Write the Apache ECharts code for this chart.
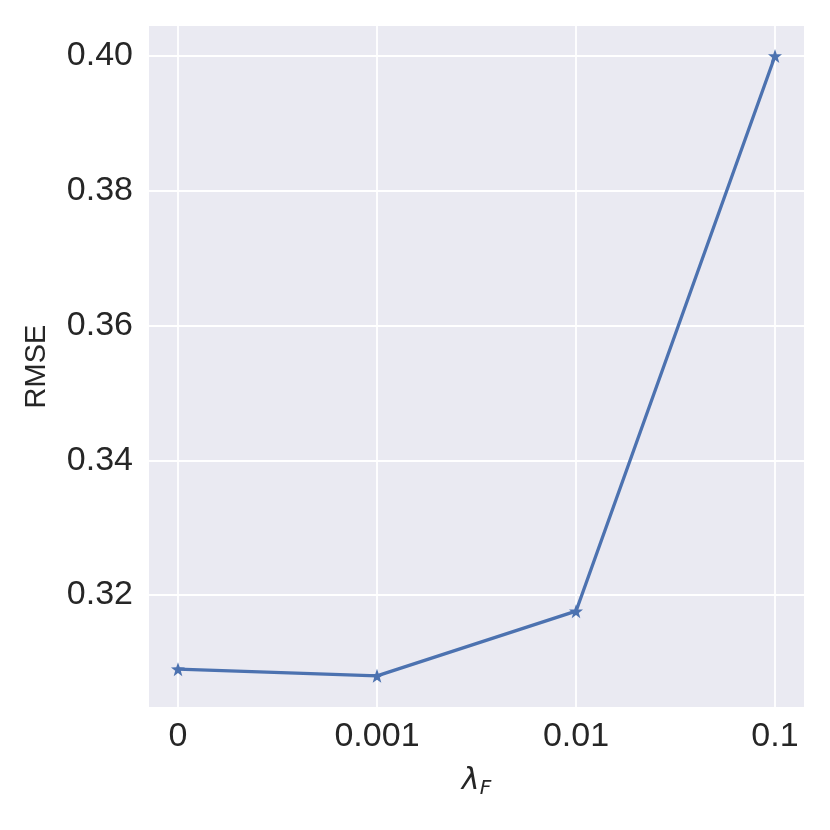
<!DOCTYPE html>
<html>
<head>
<meta charset="utf-8">
<script src="https://cdn.jsdelivr.net/npm/echarts@6/dist/echarts.min.js"></script>
<style>html,body{margin:0;padding:0;background:#fff}#c{width:830px;height:830px}</style>
</head>
<body>
<div id="c"></div>
<script>
const categories = ['0', '0.001', '0.01', '0.1'];
const rmse = [0.3090, 0.3080, 0.3176, 0.4000];
const yTicks = [0.32, 0.34, 0.36, 0.38, 0.40];
const yLabel = 'RMSE';

const chart = echarts.init(document.getElementById('c'));
const textColor = '#262626';
chart.setOption({
  animation: false,
  backgroundColor: '#ffffff',
  grid: { left: 149, right: 26, top: 26, bottom: 123, backgroundColor: '#eaeaf2', show: true, borderWidth: 0 },
  xAxis: {
    type: 'value',
    min: -0.1457,
    max: 3.1457,
    axisLine: { show: false },
    axisTick: { show: false, customValues: [0, 1, 2, 3] },
    splitLine: { show: true, lineStyle: { color: '#ffffff', width: 1.8 } },
    axisLabel: {
      customValues: [0, 1, 2, 3],
      formatter: v => categories[Math.round(v)],
      fontFamily: 'Liberation Sans, Arial, sans-serif',
      fontSize: 34, color: textColor, margin: 13
    },
    name: '{a|λ}{b|F}',
    nameLocation: 'middle',
    nameGap: 56,
    nameTextStyle: {
      rich: {
        a: { fontFamily: 'DejaVu Sans, sans-serif', fontStyle: 'italic', fontSize: 30, color: textColor },
        b: { fontFamily: 'DejaVu Sans, sans-serif', fontStyle: 'italic', fontSize: 20, color: textColor, padding: [16, 0, 0, 0] }
      }
    }
  },
  yAxis: {
    type: 'value',
    min: 0.30338,
    max: 0.40445,
    axisLine: { show: false },
    axisTick: { show: false, customValues: yTicks },
    splitLine: { show: true, lineStyle: { color: '#ffffff', width: 1.8 } },
    axisLabel: {
      customValues: yTicks,
      formatter: v => v.toFixed(2),
      fontFamily: 'Liberation Sans, Arial, sans-serif',
      fontSize: 34, color: textColor, margin: 16
    },
    name: yLabel,
    nameLocation: 'middle',
    nameGap: 98,
    nameRotate: 90,
    nameTextStyle: { fontFamily: 'Liberation Sans, Arial, sans-serif', fontSize: 29, color: textColor }
  },
  series: [{
    type: 'line',
    data: rmse.map((v, i) => [i, v]),
    symbol: 'path://M0,-10L2.35,-3.24L9.51,-3.09L3.8,1.24L5.88,8.09L0,4L-5.88,8.09L-3.8,1.24L-9.51,-3.09L-2.35,-3.24Z',
    symbolSize: 14,
    itemStyle: { color: '#4c72b0' },
    lineStyle: { color: '#4c72b0', width: 3.3 },
    clip: false
  }]
});
</script>
</body>
</html>
